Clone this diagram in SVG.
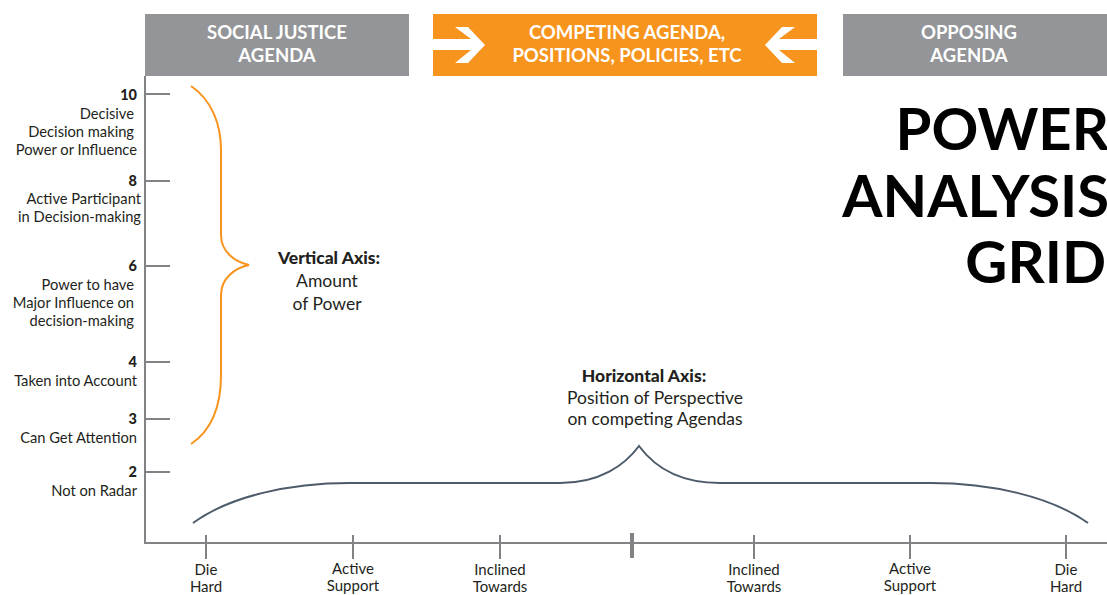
<svg xmlns="http://www.w3.org/2000/svg" width="1107" height="595" viewBox="0 0 1107 595">
<style>
.hdr{font-family:Lato,"Liberation Sans",sans-serif;font-weight:700;font-size:18.5px;fill:#fff;text-anchor:middle}
.num{font-family:Lato,"Liberation Sans",sans-serif;font-weight:900;font-size:14.5px;fill:#231f20;text-anchor:end}
.lbl{font-family:Lato,"Liberation Sans",sans-serif;font-size:14.7px;fill:#231f20;text-anchor:end}
.bot{font-family:Lato,"Liberation Sans",sans-serif;font-size:15px;fill:#231f20;text-anchor:middle}
.ax{font-family:Lato,"Liberation Sans",sans-serif;font-size:17.5px;fill:#231f20;text-anchor:middle}
.axb{font-weight:900}
.title{font-family:Lato,"Liberation Sans",sans-serif;font-weight:700;font-size:58px;fill:#000;text-anchor:end}
.axis{stroke:#808285;stroke-width:2;fill:none}
</style>
<rect width="1107" height="595" fill="#fff"/>
<g id="social-justice-agenda">
<rect x="145" y="14" width="264" height="62" fill="#939598"/>
<text class="hdr" x="277" y="39">SOCIAL JUSTICE</text>
<text class="hdr" x="277" y="62">AGENDA</text>
</g>
<g id="competing-agenda">
<rect x="433" y="14" width="384" height="62" fill="#f7941d"/>
<path d="M433,39 L471,39 L455,27 L468,27 L485,45 L468,63 L455,63 L471,50 L433,50 Z" fill="#fff"/>
<path d="M817,39 L779,39 L795,27 L782,27 L765,45 L782,63 L795,63 L779,50 L817,50 Z" fill="#fff"/>
<text class="hdr" x="627" y="39">COMPETING AGENDA,</text>
<text class="hdr" x="627" y="62">POSITIONS, POLICIES, ETC</text>
</g>
<g id="opposing-agenda">
<rect x="843" y="14" width="264" height="62" fill="#939598"/>
<text class="hdr" x="969" y="39">OPPOSING</text>
<text class="hdr" x="969" y="62">AGENDA</text>
</g>
<g id="title">
<text class="title" x="1109" y="150">POWER</text>
<text class="title" x="1109" y="217">ANALYSIS</text>
<text class="title" x="1106" y="283">GRID</text>
</g>
<g id="axes">
<path class="axis" d="M145,76 L145,543 L1107,543"/>
<path class="axis" d="M145,94 H170 M145,181 H170 M145,266 H170 M145,362 H170 M145,419 H170 M145,472 H170"/>
<path class="axis" d="M206,535 V559 M353,535 V559 M500,535 V559 M754,535 V559 M910,535 V559 M1066,535 V559"/>
<path d="M632,533 V558" stroke="#808285" stroke-width="4"/>
</g>
<g id="vertical-scale">
<text class="num" x="137" y="100">10</text>
<text class="lbl" x="134" y="119">Decisive</text>
<text class="lbl" x="134" y="137">Decision making</text>
<text class="lbl" x="137" y="155">Power or Influence</text>
<text class="num" x="137" y="186">8</text>
<text class="lbl" x="141" y="204">Active Participant</text>
<text class="lbl" x="141" y="222">in Decision-making</text>
<text class="num" x="137" y="271">6</text>
<text class="lbl" x="134" y="290">Power to have</text>
<text class="lbl" x="134" y="308">Major Influence on</text>
<text class="lbl" x="134" y="326">decision-making</text>
<text class="num" x="137" y="367">4</text>
<text class="lbl" x="137" y="386">Taken into Account</text>
<text class="num" x="137" y="424">3</text>
<text class="lbl" x="137" y="443">Can Get Attention</text>
<text class="num" x="137" y="477">2</text>
<text class="lbl" x="137" y="496">Not on Radar</text>
</g>
<g id="horizontal-scale">
<text class="bot" x="206" y="575">Die</text>
<text class="bot" x="206" y="592">Hard</text>
<text class="bot" x="353" y="574">Active</text>
<text class="bot" x="353" y="591">Support</text>
<text class="bot" x="500" y="575">Inclined</text>
<text class="bot" x="500" y="592">Towards</text>
<text class="bot" x="754" y="575">Inclined</text>
<text class="bot" x="754" y="592">Towards</text>
<text class="bot" x="910" y="574">Active</text>
<text class="bot" x="910" y="591">Support</text>
<text class="bot" x="1066" y="575">Die</text>
<text class="bot" x="1066" y="592">Hard</text>
</g>
<g id="connectors">
<path d="M191,86 C212,100 221,125 221,150 L221,235 C221,252 235,262 249,265 C235,268 221,278 221,295 L221,375 C221,405 212,430 191,444" fill="none" stroke="#f7941d" stroke-width="2"/>
<path d="M193,523 C230,496 290,483 350,483 L560,483 C600,483 625,465 639,446 C653,465 678,483 720,483 L930,483 C990,483 1050,496 1088,523" fill="none" stroke="#4d5b69" stroke-width="2"/>
</g>
<g id="vertical-axis-label">
<text class="ax axb" x="329" y="264">Vertical Axis:</text>
<text class="ax" x="327" y="287">Amount</text>
<text class="ax" x="327" y="310">of Power</text>
</g>
<g id="horizontal-axis-label">
<text class="ax axb" x="644" y="382">Horizontal Axis:</text>
<text class="ax" x="655" y="404">Position of Perspective</text>
<text class="ax" x="655" y="425">on competing Agendas</text>
</g>
</svg>
